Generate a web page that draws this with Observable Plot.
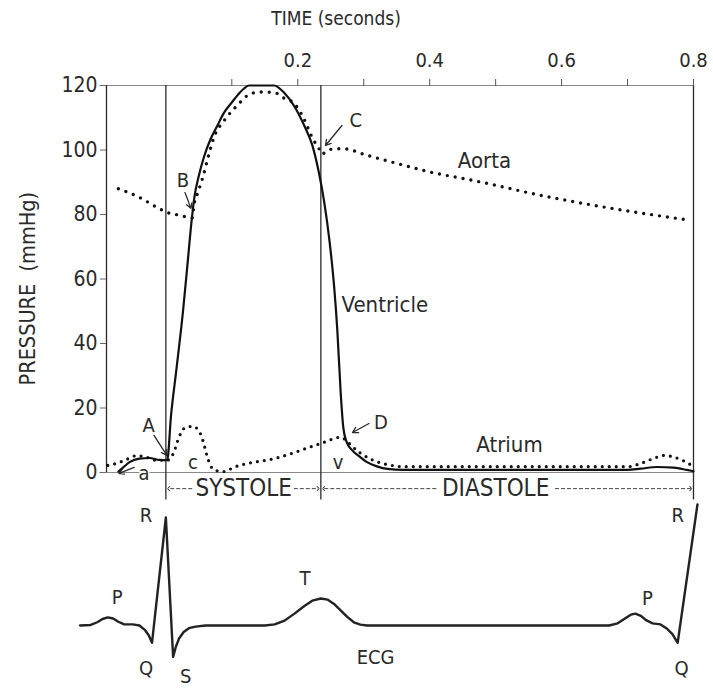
<!DOCTYPE html>
<html>
<head>
<meta charset="utf-8">
<script src="https://cdn.jsdelivr.net/npm/d3@7"></script>
<script src="https://cdn.jsdelivr.net/npm/@observablehq/plot@0.6"></script>
<style>
  html, body { margin: 0; padding: 0; background: #fff; }
  #chart svg { display: block; }
</style>
</head>
<body>
<div id="chart"></div>
<script>
// ---- Data (time in seconds, pressure in mmHg) ----
const ventricleT = [-0.072,-0.065,-0.055,-0.04,-0.025,-0.01,0.002,0.008,0.016,0.026,0.033,0.039,0.043,0.05,0.058,0.068,0.078,0.088,0.099,0.11,0.118,0.126,0.164,0.179,0.194,0.21,0.222,0.232,0.24,0.248,0.255,0.26,0.265,0.269,0.274,0.282,0.292,0.305,0.32,0.336,0.36,0.7,0.72,0.745,0.77,0.79,0.8];
const ventricleP = [0.3,1.5,3.2,4.3,4.5,3.9,3.8,18,32,50,65,78,85,92,98,103.5,107.5,111.5,114.5,117.3,119,120,120,117.8,113.8,107.5,101.5,93,84,72,58,44,25,14,9.5,7,5.2,3.2,1.9,1.1,0.8,0.8,1.2,1.7,1.5,0.8,0.4];

const aortaT = [-0.072,-0.04,-0.01,0.0,0.02,0.04,0.043,0.048,0.056,0.064,0.073,0.088,0.109,0.129,0.145,0.165,0.18,0.189,0.2,0.209,0.224,0.232,0.236,0.25,0.268,0.306,0.351,0.40,0.467,0.579,0.679,0.795];
const aortaP = [88,85.3,81.8,80.8,79.8,79,83.4,86.5,91.5,97.7,104,109,114,117.5,118,117.8,116,115.3,113,109.8,103,100.5,98.8,100.2,100.4,98.3,95.8,93.2,90.5,85.5,81.8,78.2];

const atriumT = [-0.088,-0.075,-0.06,-0.045,-0.03,-0.015,0.002,0.012,0.02,0.03,0.041,0.05,0.056,0.062,0.068,0.076,0.088,0.103,0.17,0.235,0.265,0.272,0.282,0.295,0.31,0.325,0.34,0.36,0.7,0.72,0.74,0.755,0.77,0.785,0.795];
const atriumP = [2.2,2.8,4.0,5.2,4.8,3.8,3.8,6.2,11,14,14.3,13,10,5.5,2,0.6,0.3,1.6,4.6,9,10.9,10.2,8.2,6.0,4.2,3.0,2.3,1.8,1.8,2.8,4.4,5.3,4.8,3.6,2.5];

// ECG (time in seconds, amplitude in mV)
const ecgT = [-0.13,-0.114,-0.104,-0.096,-0.088,-0.08,-0.072,-0.064,-0.05,-0.04,-0.032,-0.026,-0.021,0,0.011,0.015,0.02,0.027,0.035,0.045,0.06,0.15,0.165,0.18,0.195,0.21,0.222,0.235,0.245,0.255,0.265,0.275,0.285,0.295,0.305,0.672,0.685,0.695,0.705,0.712,0.72,0.728,0.738,0.75,0.76,0.768,0.776,0.806];
const ecgV = [0,0.005,0.03,0.06,0.075,0.065,0.035,0.012,0.01,0,-0.04,-0.09,-0.16,1.0,-0.29,-0.2,-0.12,-0.06,-0.025,-0.01,0,0,0.01,0.045,0.11,0.18,0.23,0.25,0.24,0.2,0.14,0.08,0.03,0.008,0,0,0.02,0.06,0.1,0.11,0.09,0.05,0.02,0.01,-0.03,-0.08,-0.16,1.12];

const yTicks = [0,20,40,60,80,100,120];
const xTicks = [0.1,0.2,0.3,0.4,0.5,0.6,0.7,0.8];
const xTickLabels = {0.2:"0.2",0.4:"0.4",0.6:"0.6",0.8:"0.8"};
const phaseLines = [0, 0.235, 0.8];

const curveLabels = [
  {t:0.483, p:96.7, s:"Aorta"},
  {t:0.332, p:51.8, s:"Ventricle"},
  {t:0.521, p:8.4, s:"Atrium"}
];
const pointLabels = [
  {t:0.288, p:109, s:"C"},
  {t:0.026, p:90.5, s:"B"},
  {t:-0.026, p:14.6, s:"A"},
  {t:0.326, p:15.5, s:"D"},
  {t:-0.033, p:-0.3, s:"a"},
  {t:0.041, p:3.1, s:"c"},
  {t:0.261, p:3.1, s:"v"}
];
const pointArrows = [
  {t1:0.029, p1:86.8, t2:0.038, p2:81.9},
  {t1:0.267, p1:107.6, t2:0.242, p2:101.4},
  {t1:-0.018, p1:11.5, t2:0.0015, p2:5.3},
  {t1:0.308, p1:15.2, t2:0.283, p2:12.4},
  {t1:-0.048, p1:1.6, t2:-0.071, p2:-0.3}
];
const phaseLabels = [
  {t:0.118, s:"SYSTOLE"},
  {t:0.50, s:"DIASTOLE"}
];
const phaseArrows = [
  {t1:0.04, t2:0.004},
  {t1:0.194, t2:0.231},
  {t1:0.41, t2:0.239},
  {t1:0.59, t2:0.796}
];
const ecgLabels = [
  {t:-0.074, v:0.26, s:"P"},
  {t:-0.03, v:1.02, s:"R"},
  {t:-0.03, v:-0.40, s:"Q"},
  {t:0.03, v:-0.47, s:"S"},
  {t:0.211, v:0.435, s:"T"},
  {t:0.318, v:-0.30, s:"ECG"},
  {t:0.73, v:0.25, s:"P"},
  {t:0.776, v:1.02, s:"R"},
  {t:0.782, v:-0.40, s:"Q"}
];

const ventricle = ventricleT.map((t,i)=>({t, p:ventricleP[i]}));
const aorta = aortaT.map((t,i)=>({t, p:aortaP[i]}));
const atrium = atriumT.map((t,i)=>({t, p:atriumP[i]}));
const ecg = ecgT.map((t,i)=>({t, v:ecgV[i]}));

const FONT = "'Liberation Sans Narrow','DejaVu Sans Condensed','Liberation Sans',sans-serif";
const INK = "#2a2a2a";
const PHASE_Y = -5;

const pressurePlot = Plot.plot({
  width: 713, height: 500,
  marginLeft: 106, marginRight: 20, marginTop: 85, marginBottom: 28,
  x: {domain: [-0.09, 0.8]},
  y: {domain: [0, 120]},
  style: {fontFamily: FONT, fontSize: "19px", color: INK, background: "#fff", overflow: "visible"},
  marks: [
    Plot.ruleY([0, 120], {x1: -0.1, x2: 0.8, stroke: "#888", strokeWidth: 1}),
    Plot.ruleX([-0.09], {y1: 0, y2: 120, stroke: INK, strokeWidth: 1.3}),
    Plot.ruleX(phaseLines, {y1: -8.5, y2: 120, stroke: INK, strokeWidth: 1.3}),
    Plot.axisY({ticks: yTicks, tickSize: 6, tickPadding: 3, fontSize: 21, label: null, stroke: "#666"}),
    Plot.axisX({anchor: "top", ticks: xTicks, tickSize: 7, tickPadding: 12, fontSize: 20, label: null,
      tickFormat: d => xTickLabels[d] ?? "", stroke: "#555"}),
    Plot.text(["TIME (seconds)"], {x: 0.258, y: 140.8, text: d => d, fontSize: 19, fill: INK}),
    Plot.text(["PRESSURE  (mmHg)"], {x: -0.209, y: 57, text: d => d, rotate: -90, fontSize: 21.5, fill: INK}),
    Plot.line(atrium, {x: "t", y: "p", curve: "monotone-x", stroke: "#111", strokeWidth: 3.2,
      strokeDasharray: "0 7", strokeLinecap: "round"}),
    Plot.line(aorta, {x: "t", y: "p", curve: "monotone-x", stroke: "#111", strokeWidth: 3.4,
      strokeDasharray: "0 8", strokeLinecap: "round"}),
    Plot.line(ventricle, {x: "t", y: "p", curve: "monotone-x", stroke: "#111", strokeWidth: 2.2}),
    Plot.text(curveLabels, {x: "t", y: "p", text: "s", fontSize: 22, fill: INK}),
    Plot.text(pointLabels, {x: "t", y: "p", text: "s", fontSize: 20, fill: INK,
      stroke: "#fff", strokeWidth: 3, paintOrder: "stroke"}),
    Plot.arrow(pointArrows, {x1: "t1", y1: "p1", x2: "t2", y2: "p2", stroke: INK, strokeWidth: 1.3, headLength: 7}),
    Plot.link(phaseArrows, {x1: "t1", x2: "t2", y1: PHASE_Y, y2: PHASE_Y, stroke: "#444", strokeWidth: 1,
      strokeDasharray: "4 2", markerEnd: "arrow"}),
    Plot.text(phaseLabels, {x: "t", y: PHASE_Y, text: "s", fontSize: 24, fill: INK})
  ]
});

const ecgPlot = Plot.plot({
  width: 713, height: 188,
  marginLeft: 106, marginRight: 20, marginTop: 17, marginBottom: 63,
  x: {domain: [-0.09, 0.8], axis: null},
  y: {domain: [0, 1], axis: null},
  style: {fontFamily: FONT, fontSize: "19px", color: INK, background: "#fff", overflow: "visible"},
  marks: [
    Plot.line(ecg, {x: "t", y: "v", curve: "linear", stroke: "#222", strokeWidth: 2.4, strokeLinejoin: "round"}),
    Plot.text(ecgLabels, {x: "t", y: "v", text: "s", fontSize: 20, fill: INK})
  ]
});

document.getElementById("chart").append(pressurePlot, ecgPlot);
</script>
</body>
</html>
